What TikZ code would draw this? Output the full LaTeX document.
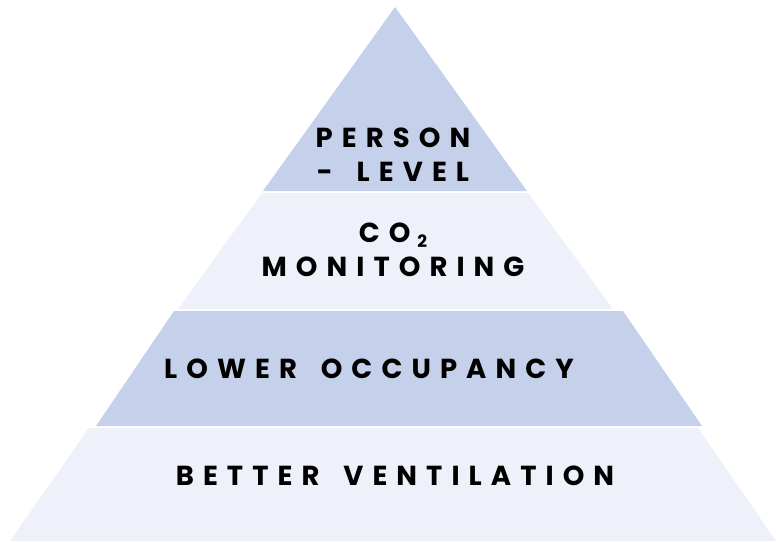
\documentclass[tikz,border=0pt]{standalone}
\usepackage{fontspec}
\newfontfamily\tierfont[LetterSpace=33,WordSpace=1.6]{Poppins}
\definecolor{tierdark}{RGB}{197,208,234}
\definecolor{tierlight}{RGB}{238,241,249}
\begin{document}
\begin{tikzpicture}[x=1pt,y=-1pt,
  tier/.style={font=\tierfont\bfseries\fontsize{27.5}{34}\selectfont, align=center, anchor=base, inner sep=0pt}]

\useasboundingbox (0,0) rectangle (776,541);
\fill[tierdark] (395,7) -- (527,191) -- (263,191) -- cycle;
\fill[tierlight] (262,193) -- (528,193) -- (613,309) -- (178,309) -- cycle;
\fill[tierdark] (174,311) -- (623,311) -- (702,426) -- (96,426) -- cycle;
\fill[tierlight] (89,428) -- (698,428) -- (776,541) -- (10,541) -- cycle;

\node (person) [tier] at (393,181) {PERSON\\- LEVEL};
\node (monitoring) [tier] at (393,276) {CO\hspace{7pt}\raisebox{-0.2em}{\fontsize{17}{17}\selectfont 2}\\MONITORING};
\node (occupancy) [tier] at (369,378) {LOWER OCCUPANCY};
\node (ventilation) [tier] at (395,485) {BETTER VENTILATION};

\end{tikzpicture}
\end{document}
